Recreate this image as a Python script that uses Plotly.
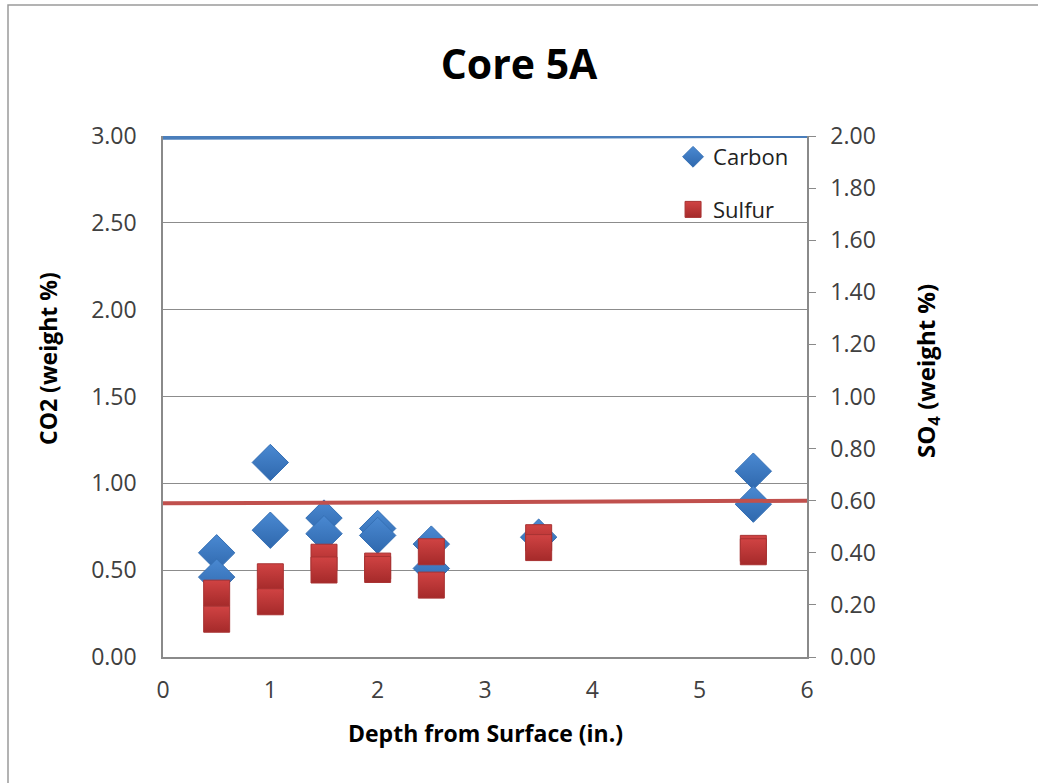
import plotly.graph_objects as go

# Core 5A measurements: depth (in.) vs. CO2 and SO4 weight %
carbon_depth = [0.5, 0.5, 1.0, 1.0, 1.5, 1.5, 2.0, 2.0, 2.5, 2.5, 3.5, 5.5, 5.5]
carbon_co2 = [0.60, 0.46, 1.12, 0.73, 0.80, 0.71, 0.74, 0.70, 0.65, 0.51, 0.69, 1.07, 0.88]

sulfur_depth = [0.5, 0.5, 1.0, 1.0, 1.5, 1.5, 2.0, 2.0, 2.5, 2.5, 3.5, 3.5, 5.5, 5.5]
sulfur_so4 = [0.245, 0.145, 0.308, 0.212, 0.383, 0.334, 0.349, 0.336, 0.404, 0.276, 0.458, 0.420, 0.417, 0.404]

# Reference lines across the full depth range
carbon_ref_x = [0, 6]
carbon_ref_y = [2.99, 3.00]
sulfur_ref_x = [0, 6]
sulfur_ref_y = [0.59, 0.60]

left_ticks = [0.0, 0.5, 1.0, 1.5, 2.0, 2.5, 3.0]
right_ticks = [0.0, 0.2, 0.4, 0.6, 0.8, 1.0, 1.2, 1.4, 1.6, 1.8, 2.0]
x_ticks = [0, 1, 2, 3, 4, 5, 6]

FONT = "Open Sans"
AXIS = "#8a8a8a"
TICK_FONT = dict(family=FONT, size=23, color="#404040")

# plot-area geometry in pixels, used to place the axis titles
PLOT_L, PLOT_R, PLOT_T, PLOT_B = 163, 807, 136, 657
PW, PH = PLOT_R - PLOT_L, PLOT_B - PLOT_T


def px_x(px):
    return (px - PLOT_L) / PW


def px_y(py):
    return (PLOT_B - py) / PH


fig = go.Figure()

fig.add_trace(go.Scatter(
    x=carbon_ref_x, y=carbon_ref_y, mode="lines",
    line=dict(color="#4a7ebb", width=4), showlegend=False, hoverinfo="skip",
))
fig.add_trace(go.Scatter(
    x=sulfur_ref_x, y=sulfur_ref_y, mode="lines", yaxis="y2",
    line=dict(color="#c0504d", width=4), showlegend=False, hoverinfo="skip",
))

fig.add_trace(go.Scatter(
    x=carbon_depth, y=carbon_co2, mode="markers", name="Carbon",
    legendgroup="c",
    marker=dict(symbol="diamond", size=28, color="#4a89d2",
                gradient=dict(type="vertical", color="#2f68ad"),
                line=dict(color="#3570b5", width=1)),
))
fig.add_trace(go.Scatter(
    x=sulfur_depth, y=sulfur_so4, mode="markers", name="Sulfur",
    legendgroup="s", yaxis="y2",
    marker=dict(symbol="square", size=26, color="#d04343",
                gradient=dict(type="vertical", color="#a52a2a"),
                line=dict(color="#a83232", width=1)),
))

fig.update_layout(
    width=1038, height=783,
    margin=dict(l=PLOT_L, r=1038 - PLOT_R, t=PLOT_T, b=783 - PLOT_B),
    paper_bgcolor="white", plot_bgcolor="white",
    font=dict(family=FONT, color="#333333", size=22),
    title=dict(text="<b>Core 5A</b>", x=0.5, xref="container", xanchor="center",
               y=0.917, yref="container", yanchor="middle",
               font=dict(family=FONT, size=41, color="black")),
    xaxis=dict(
        range=[0, 6], tickvals=x_ticks, ticktext=[str(v) for v in x_ticks],
        showgrid=False, zeroline=False, showline=True, linecolor=AXIS, linewidth=1.5,
        ticks="", ticklabelstandoff=12, tickfont=TICK_FONT,
    ),
    yaxis=dict(
        range=[0, 3], tickvals=left_ticks, ticktext=[f"{v:.2f}" for v in left_ticks],
        showgrid=True, gridcolor="#8c8c8c", gridwidth=1,
        zeroline=False, showline=True, linecolor=AXIS, linewidth=1.5,
        ticks="", ticklabelstandoff=20, tickfont=TICK_FONT,
    ),
    yaxis2=dict(
        range=[0, 2], overlaying="y", side="right",
        tickvals=right_ticks, ticktext=[f"{v:.2f}" for v in right_ticks],
        showgrid=False, zeroline=False, showline=True, linecolor=AXIS, linewidth=1.5,
        ticks="outside", ticklen=7, tickcolor=AXIS, ticklabelstandoff=10,
        tickfont=TICK_FONT,
    ),
    legend=dict(
        x=0.792, y=1.0, xanchor="left", yanchor="top",
        bgcolor="rgba(0,0,0,0)", font=dict(family=FONT, size=22, color="#222222"),
        tracegroupgap=21, itemwidth=30,
    ),
    annotations=[
        dict(text="<b>Depth from Surface (in.)</b>", xref="paper", yref="paper",
             x=px_x(485), y=px_y(733), xanchor="center", yanchor="middle",
             showarrow=False, font=dict(family=FONT, size=23, color="black")),
        dict(text="<b>CO2 (weight %)</b>", xref="paper", yref="paper",
             x=px_x(48), y=px_y(359), xanchor="center", yanchor="middle",
             textangle=-90, showarrow=False,
             font=dict(family=FONT, size=23, color="black")),
        dict(text="<b>SO<sub>4</sub> (weight %)</b>", xref="paper", yref="paper",
             x=px_x(927), y=px_y(371), xanchor="center", yanchor="middle",
             textangle=-90, showarrow=False,
             font=dict(family=FONT, size=24, color="black")),
    ],
    shapes=[dict(type="rect", xref="paper", yref="paper",
                 x0=px_x(8), x1=1.5, y0=-1.0, y1=px_y(5),
                 line=dict(color="#9a9a9a", width=1.5), fillcolor="rgba(0,0,0,0)",
                 layer="below")],
)

fig.write_html("out.html")
